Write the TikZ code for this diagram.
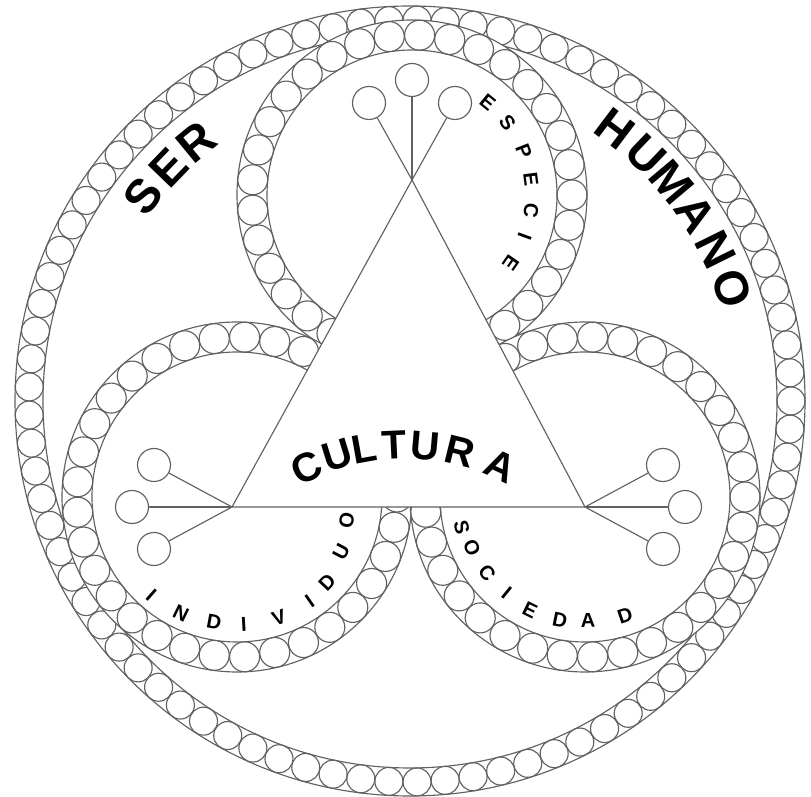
\documentclass[tikz,border=0pt]{standalone}
\usepackage{fontspec}
\setmainfont{Liberation Sans}
\usetikzlibrary{calc}
% ring of beads: centre, mid radius, bead radius, number of beads
\newcommand{\beadring}[4]{%
  \fill[white,even odd rule] (#1) circle ({#2+#3}) (#1) circle ({#2-#3});
  \draw[ringline] (#1) circle ({#2+#3}) (#1) circle ({#2-#3});
  \foreach \k in {1,...,#4}
    \draw[ringline] ($(#1)+({360/#4*\k}:#2)$) circle (#3);
}

\begin{document}
\begin{tikzpicture}[
  x=0.02cm,y=0.02cm,
  ringline/.style={draw=black!62,line width=0.65pt},
  bud/.style={circle,draw=black!62,line width=0.65pt,minimum size=0.66cm,inner sep=0pt},
  bigtxt/.style={font=\fontsize{27}{27}\selectfont\bfseries,inner sep=0pt},
  midtxt/.style={font=\fontsize{23}{23}\selectfont\bfseries,inner sep=0pt},
  smalltxt/.style={font=\fontsize{11.5}{11.5}\selectfont\bfseries,inner sep=0pt}
]
\useasboundingbox (0,0) rectangle (811,797);

% centres of the four rings
\coordinate (big) at (410,396);
\coordinate (topc) at (412,602);
\coordinate (leftc) at (237,300);
\coordinate (rightc) at (585,300);

% outer ring first, the three inner ones on top of it
\beadring{big}{381}{14}{85}
\beadring{topc}{160}{15}{33}
\beadring{leftc}{160}{15}{33}
\beadring{rightc}{160}{15}{33}

% triangle, white inside so it hides the rings
\coordinate (apex) at (412,617);
\coordinate (lv) at (232,290);
\coordinate (rv) at (585,290);
\filldraw[ringline,fill=white] (lv) -- (apex) -- (rv) -- cycle;

% three buds at each corner
\node[bud] (t1) at ($(apex)+(-43,77)$) {};
\node[bud] (t2) at ($(apex)+(0,100)$) {};
\node[bud] (t3) at ($(apex)+(43,77)$) {};
\node[bud] (l1) at ($(lv)+(-78,42)$) {};
\node[bud] (l2) at ($(lv)+(-100,0)$) {};
\node[bud] (l3) at ($(lv)+(-78,-42)$) {};
\node[bud] (r1) at ($(rv)+(78,42)$) {};
\node[bud] (r2) at ($(rv)+(100,0)$) {};
\node[bud] (r3) at ($(rv)+(78,-42)$) {};
\foreach \b in {t1,t2,t3} \draw[ringline] (apex) -- (\b);
\foreach \b in {l1,l2,l3} \draw[ringline] (lv) -- (\b);
\foreach \b in {r1,r2,r3} \draw[ringline] (rv) -- (\b);

% words along the outer ring
\foreach \ch/\a [count=\i] in {S/142.5,E/136,R/129.5}
  \node[bigtxt,rotate=\a-90] (ser\i) at ($(big)+(\a:336)$) {\ch};
\foreach \ch/\a [count=\i] in {H/53,U/46.2,M/40,A/33.2,N/26.3,O/19.3}
  \node[bigtxt,rotate=\a-90] (hum\i) at ($(big)+(\a:341)$) {\ch};

% CULTURA inside the triangle
\coordinate (cc) at (405,123);
\foreach \ch/\a [count=\i] in {C/115.5,U/107.2,L/100.2,T/92.6,U/85,R/76.1,A/65.3}
  \node[midtxt,rotate=\a-90] (cul\i) at ($(cc)+(\a:229)$) {\ch};

% small words inside the three rings
\foreach \ch/\a [count=\i] in {E/50.8,S/37.2,P/21.3,E/7.4,C/-7.4,I/-20,E/-34.7}
  \node[smalltxt,rotate=\a-90] (esp\i) at ($(topc)+(\a:120)$) {\ch};
\foreach \ch/\a/\r [count=\i] in {I/-131.3/130,N/-115.8/129,D/-100.4/127,I/-86.9/128,V/-70.9/128,I/-55.1/127,D/-43.4/124,U/-27.9/118,O/-11.9/112}
  \node[smalltxt,rotate=\a+90] (ind\i) at ($(leftc)+(\a:\r)$) {\ch};
\foreach \ch/\a/\r [count=\i] in {S/193.7/127,O/204.3/124,C/217.8/124,I/230.9/124,E/244.1/126,D/258.5/126,A/271.4/123,D/288.7/125}
  \node[smalltxt,rotate=\a+90] (soc\i) at ($(rightc)+(\a:\r)$) {\ch};

\end{tikzpicture}
\end{document}
